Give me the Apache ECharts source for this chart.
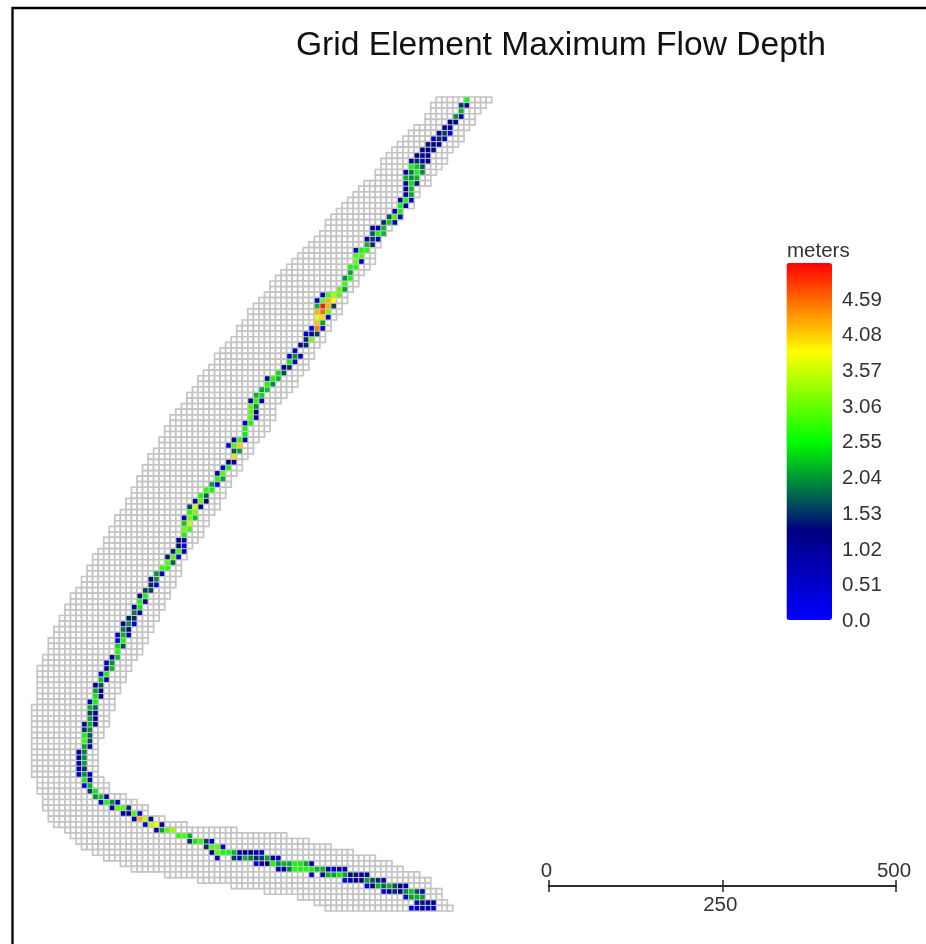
<!DOCTYPE html>
<html>
<head>
<meta charset="utf-8">
<script src="https://cdn.jsdelivr.net/npm/echarts@6/dist/echarts.min.js"></script>
<style>html,body{margin:0;padding:0;background:#fff}#c{width:926px;height:944px;filter:blur(0.4px)}</style>
</head>
<body>
<div id="c"></div>
<script>
var titleText = 'Grid Element Maximum Flow Depth';
var legendName = 'meters';
var legendTicks = ['0.0','0.51','1.02','1.53','2.04','2.55','3.06','3.57','4.08','4.59',''];
var legendColors = ['#0000ff','#000080','#00ff00','#ffff00','#ff0000'];
var depthMin = 0, depthMax = 5.1;
var scaleLabels = ['0','250','500'];

// first and one-past-last column of the modelled floodplain, per row from the top
var gridLeft = [73,72,72,71,71,69,68,67,66,65,64,63,63,62,62,60,59,58,57,56,
55,54,53,53,52,51,50,49,48,47,46,45,44,43,43,42,41,40,39,39,
38,37,37,36,35,34,33,33,32,31,30,30,29,28,28,27,26,25,25,24,
24,23,23,22,21,21,20,20,19,19,18,18,17,17,16,15,15,14,14,13,
13,12,11,11,10,10,9,9,8,7,7,6,6,5,5,4,4,3,3,3,
2,2,1,1,1,1,1,1,1,0,0,0,0,0,0,0,0,0,0,0,
0,0,1,1,1,2,2,2,3,3,4,6,7,8,9,11,13,16,18,24,30,36,42,48,51,53];
var gridRight = [83,82,81,80,80,79,78,78,77,76,75,75,74,73,72,72,70,70,69,69,
67,67,66,65,64,63,63,62,62,62,61,60,59,59,58,57,57,56,56,55,
54,54,53,53,52,51,51,50,50,49,48,48,47,46,45,44,44,44,43,43,
42,41,40,40,39,38,38,37,36,36,35,35,34,34,33,32,32,31,31,30,
29,28,28,27,27,27,26,26,25,25,24,24,23,23,22,22,21,21,20,20,
19,18,18,17,17,16,16,15,15,15,14,14,14,13,13,12,12,12,12,12,
12,12,13,14,14,17,19,21,21,24,28,37,46,50,54,58,62,65,67,70,72,72,74,74,75,76];

// first wet column per row, and maximum flow depth (m) of the cells from that column on
var channelStart = [78,77,77,76,75,74,73,72,71,70,69,68,68,67,67,67,67,67,66,66,
65,64,63,61,61,60,60,58,58,58,57,57,56,56,55,52,51,51,51,51,
51,50,49,49,48,47,46,46,45,44,42,42,41,40,39,39,39,39,38,38,
38,36,35,36,36,35,34,33,33,32,31,30,29,28,28,27,27,27,27,26,
26,25,24,24,23,22,21,21,20,19,19,18,18,17,16,16,15,15,15,15,
14,13,13,12,12,11,11,11,10,10,10,10,9,9,9,9,9,8,8,8,
8,8,9,9,10,11,12,14,16,18,20,22,26,28,31,32,33,40,44,50,
56,60,63,67,69,68];
var channelDepth = [
[2.6],[1.6,1.4],[2.2],[2.0,0.9],[1.1,1.2],[1.0,1.1],[1.1,1.6,0.2],[0.9,1.5,0.9],[1.4,1.2,1.1],[1.0,1.2,0.9],
[1.2,1.0,1.2],[1.0,1.5,0.9,1.1],[2.6,2.3,1.7],[0.9,1.9,2.6,2.0],[2.2,2.0,2.2],[0.9,2.4,1.4],[1.1,2.2],[1.0,2.1],[0.7,2.7,0.6],[2.6,0.9],
[0.6,2.6],[1.7,2.8,0.7],[1.5,2.3,0.6],[0.8,0.8,2.2],[1.7,2.6,2.2],[0.7,1.6,0.5],[2.2,1.5],[0.7,2.6,2.7],[2.9,2.9],[3.0,0.6],
[2.6,2.7],[2.1],[2.0,2.6],[2.8],[3.0,2.1],[0.6,2.8,3.4,3.0],[0.6,3.0,4.2,3.8],[2.2,5.0,4.2,1.6],[4.2,4.6,3.1],[3.7,4.0,0.7],
[4.1,2.1],[0.3,4.5,0.3],[0.5,1.0,1.6],[1.5,3.1],[1.0,1.5],[0.5],[0.6,2.0,0.6],[2.5,0.8],[1.3,1.5],[2.4,1.7],
[1.0,2.6,2.2],[2.6,2.0],[2.1,2.3],[2.2,2.4],[1.1,2.7,0.7],[2.9,2.0],[2.9,1.3],[2.9,0.7],[0.6,2.6],[2.6],
[2.5],[1.0,2.7,1.0],[0.4,2.9,4.1],[1.7,2.1],[4.0],[1.2,1.0],[0.5,2.6],[1.0,2.9],[2.7,2.1],[2.1,0.4],
[2.8,2.6],[2.6,1.8],[1.0,3.0,1.3],[1.6,3.6,1.0],[2.7,3.1],[0.9,3.1,2.3],[2.3,3.5],[3.1,2.8],[2.6],[1.1,0.8],
[1.3,0.4],[1.4,2.8,0.7],[1.4,2.9,0.4],[2.9,1.8],[2.8,2.7],[2.0,0.8],[1.1,2.0],[1.5,0.3],[1.6,1.6],[1.2,2.6],
[2.6,1.1],[1.0,2.5],[1.9,0.9],[1.4,1.5],[1.0,2.0,0.3],[1.9,0.9],[0.5,2.2,0.9],[0.5,2.6],[2.4,1.7],[2.7],
[0.9,2.2],[0.6,2.0],[1.1,2.2],[0.5,2.6],[2.3,1.0],[1.0,1.7],[2.1,1.1],[2.5,1.1],[0.6,2.6],[2.2,1.8],
[1.6,1.1],[2.1,1.1],[1.1,2.2,1.1],[1.5,2.0],[2.6,1.7],[2.8,1.6],[2.1,0.9],[0.7,1.9],[0.8,2.0],[0.6,2.1],
[0.6,1.5],[0.5,2.0,0.9],[2.6,1.0],[0.3,2.2],[1.6,2.5],[2.0,2.3,0.8],[0.4,2.6,2.0,0.7],[1.1,3.0,2.9,1.5],[0.9,1.0,2.9,0.3],[0.9,4.2,3.5,0.8],
[0.2,3.5,3.8,0.9],[0.8,2.1,3.0,3.3],[2.7,2.9,2.2],[1.5,2.5,2.8,1.6,0.5],[1.5,2.9,3.0,0.3],[1.0,3.0,2.6,2.6,2.2,1.0,1.0,1.1,0.9,0.4],
[0.6,null,null,1.6,0.4,2.2,1.9,1.5,1.6,2.1,1.1,0.4],
[0.5,0.9,1.3,2.6,2.0,2.2,2.1,2.6,2.5,2.1,1.0],
[0.5,0.9,1.9,2.7,2.6,2.7,2.6,2.2,2.2,1.0,0.3,0.6,0.9],
[0.6,null,1.0,2.2,2.1,2.5,2.1,1.2,1.4,1.1,1.0],
[0.2,0.9,1.3,1.1,2.1,1.7,1.5,1.0],
[0.3,1.1,2.2,1.8,2.2,1.7,1.0,1.0],
[0.3,0.9,1.5,1.2,2.0,2.3,1.7,0.5],
[0.4,2.1,2.2,2.1],
[0.4,1.4,0.9,1.1],
[0.3,0.5,1.1,0.8,0.5]
];

var plainCells = [];
gridLeft.forEach(function (first, row) {
  for (var col = first; col < gridRight[row]; col++) plainCells.push([col + 0.5, row + 0.5]);
});
var wetCells = [];
channelDepth.forEach(function (depths, row) {
  depths.forEach(function (depth, i) {
    if (depth !== null) wetCells.push([channelStart[row] + i + 0.5, row + 0.5, depth]);
  });
});

function cellShape(api) {
  var c = api.coord([api.value(0), api.value(1)]);
  var s = api.size([1, 1]);
  return { x: c[0] - s[0] / 2, y: c[1] - s[1] / 2, width: s[0], height: s[1] };
}

var chart = echarts.init(document.getElementById('c'), null, { renderer: 'canvas' });
chart.setOption({
  animation: false,
  backgroundColor: '#ffffff',
  textStyle: { fontFamily: 'Liberation Sans' },
  title: [
    { text: titleText, left: 296, top: 29, padding: 0,
      textStyle: { fontSize: 33.6, fontWeight: 'normal', color: '#111', fontFamily: 'Liberation Sans' } },
    { text: legendName, left: 787, top: 241, padding: 0,
      textStyle: { fontSize: 20.5, fontWeight: 'normal', color: '#333', fontFamily: 'Liberation Sans' } }
  ],
  grid: [
    { left: 31.7, top: 97, width: 460, height: 814 },
    { left: 786.5, top: 264.3, width: 45.5, height: 357 },
    { left: 548.5, top: 886, width: 347.5, height: 0 }
  ],
  xAxis: [
    { gridIndex: 0, type: 'value', min: 0, max: 83, show: false },
    { gridIndex: 1, type: 'value', show: false },
    { gridIndex: 2, type: 'value', min: 0, max: 500, interval: 250, position: 'top',
      axisLine: { show: true, onZero: false, lineStyle: { color: '#222', width: 1.5 } },
      axisTick: { show: true, inside: false, length: 6, lineStyle: { color: '#222', width: 1.5 } },
      splitLine: { show: false },
      axisLabel: { show: true, margin: 4, fontSize: 20.5, color: '#333', showMinLabel: true, showMaxLabel: true, padding: [0, 4, 0, 0],
        formatter: function (v) { return v === 250 ? '' : String(v); } } },
    { gridIndex: 2, type: 'value', min: 0, max: 500, interval: 250, position: 'bottom',
      axisLine: { show: true, onZero: false, lineStyle: { color: '#222', width: 1.5 } },
      axisTick: { show: true, inside: false, length: 6, lineStyle: { color: '#222', width: 1.5 } },
      splitLine: { show: false },
      axisLabel: { show: true, margin: 9, fontSize: 20.5, color: '#333', showMinLabel: true, showMaxLabel: true, padding: [0, 4, 0, 0],
        formatter: function (v) { return v === 250 ? String(v) : ''; } } }
  ],
  yAxis: [
    { gridIndex: 0, type: 'value', min: 0, max: 146, inverse: true, show: false },
    { gridIndex: 1, type: 'category', data: legendTicks, boundaryGap: false, position: 'right',
      axisLine: { show: false }, axisTick: { show: false }, splitLine: { show: false },
      axisLabel: { show: true, interval: 0, margin: 10, fontSize: 20.5, color: '#333' } },
    { gridIndex: 2, type: 'value', min: 0, max: 1, show: false }
  ],
  visualMap: {
    type: 'continuous', show: true, seriesIndex: 1, dimension: 2,
    min: depthMin, max: depthMax, calculable: false, realtime: false, hoverLink: false,
    left: 786.5, top: 263, itemWidth: 45.5, itemHeight: 357, padding: 0,
    inRange: { color: legendColors }
  },
  series: [
    { type: 'custom', xAxisIndex: 0, yAxisIndex: 0, data: plainCells, silent: true, clip: false, z: 2,
      renderItem: function (params, api) {
        return { type: 'rect', shape: cellShape(api),
          style: { fill: '#ffffff', stroke: '#c4c4c4', lineWidth: 1.7 } };
      } },
    { type: 'custom', xAxisIndex: 0, yAxisIndex: 0, data: wetCells, silent: true, clip: false, z: 3,
      encode: { x: 0, y: 1 },
      renderItem: function (params, api) {
        var r = cellShape(api);
        return { type: 'rect',
          shape: { x: r.x + 0.5, y: r.y + 0.5, width: r.width - 1, height: r.height - 1 },
          style: { fill: api.visual('color') } };
      } }
  ],
  graphic: [
    { type: 'polyline', silent: true, z: 10,
      shape: { points: [[12.5, 944], [12.5, 8], [926, 8]] },
      style: { fill: null, stroke: '#000', lineWidth: 2.3 } }
  ]
});
</script>
</body>
</html>
